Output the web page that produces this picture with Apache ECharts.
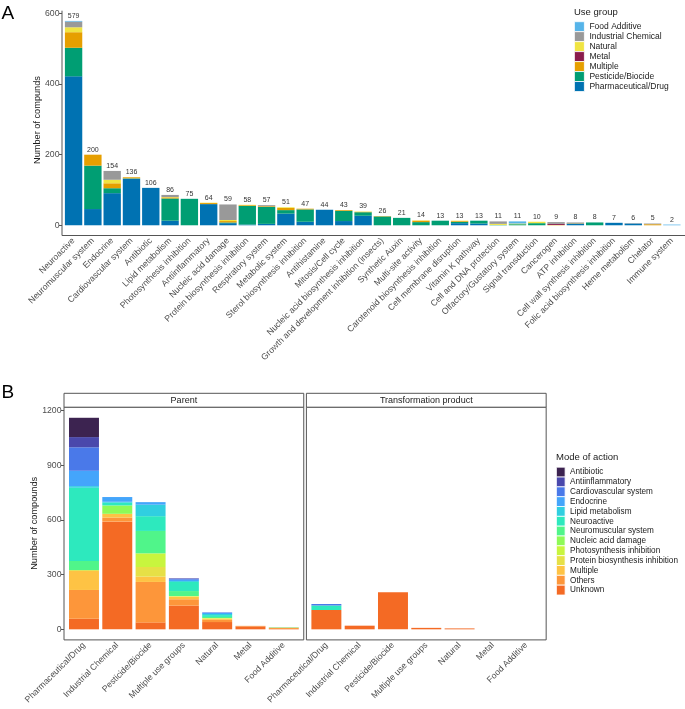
<!DOCTYPE html>
<html><head><meta charset="utf-8">
<script src="https://cdn.jsdelivr.net/npm/echarts@6/dist/echarts.min.js"></script>
<style>html,body{margin:0;padding:0;background:#fff}#c{width:685px;height:709px}</style>
</head><body><div id="c"></div><script>
// ---------- Panel A data ----------
const catsA = ['Neuroactive','Neuromuscular system','Endocrine','Cardiovascular system','Antibiotic','Lipid metabolism','Photosynthesis inhibition','Antiinflammatory','Nucleic acid damage','Protein biosynthesis inhibition','Respiratory system','Metabolic system','Sterol biosynthesis inhibition','Antihistamine','Mitosis/Cell cycle','Nucleic acid biosynthesis inhibition','Growth and development inhibition (insects)','Synthetic Auxin','Multi-site activity','Carotenoid biosynthesis inhibition','Cell membrane disruption','Vitamin K pathway','Cell and DNA protection','Olfactory/Gustatory system','Signal transduction','Cancerogen','ATP inhibition','Cell wall synthesis inhibition','Folic acid biosynthesis inhibition','Heme metabolism','Chelator','Immune system'];
const pharmaA     = [422,46,91,132,106,13,0,60,6,2,4,33,10,44,12,27,0,0,0,0,6,5,0,0,0,0,5,0,7,5,0,0];
const pesticideA  = [81,123,14,1,0,63,75,0,2,53,48,10,35,0,29,10,25,21,9,13,4,8,1,3,6,0,0,8,0,0,0,0];
const multipleA   = [44,31,14,3,0,3,0,3,4,2,2,6,2,0,2,1,1,0,4,0,2,0,0,0,0,1,1,0,0,0,3,0];
const metalA      = [0,0,0,0,0,0,0,0,0,0,0,0,0,0,0,0,0,0,0,0,0,0,0,0,0,3,0,0,0,0,0,0];
const naturalA    = [14,0,10,0,0,1,0,1,3,1,0,2,0,0,0,1,0,0,1,0,1,0,3,2,4,0,0,0,0,0,0,0];
const industrialA = [16,0,25,0,0,6,0,0,44,0,3,0,0,0,0,0,0,0,0,0,0,0,7,0,0,5,2,0,0,1,2,0];
const foodA       = [2,0,0,0,0,0,0,0,0,0,0,0,0,0,0,0,0,0,0,0,0,0,0,6,0,0,0,0,0,0,0,2];
const yTicksA = [0,200,400,600];
const legendA = ['Food Additive','Industrial Chemical','Natural','Metal','Multiple','Pesticide/Biocide','Pharmaceutical/Drug'];

// ---------- Panel B data ----------
const catsB = ['Pharmaceutical/Drug','Industrial Chemical','Pesticide/Biocide','Multiple use groups','Natural','Metal','Food Additive'];
const modesB = ['Unknown','Others','Multiple','Protein biosynthesis inhibition','Photosynthesis inhibition','Nucleic acid damage','Neuromuscular system','Neuroactive','Lipid metabolism','Endocrine','Cardiovascular system','Antiinflammatory','Antibiotic'];
// Parent facet (one array per mode, in catsB order)
const parentUnknown   = [58,591,38,130,40,16,2];
const parentOthers    = [158,22,222,35,12,3,6];
const parentMultiple  = [104,21,29,14,5,0,2];
const parentProtein   = [5,0,53,2,3,0,0];
const parentPhoto     = [0,0,75,2,2,0,0];
const parentNucleic   = [0,46,0,0,0,0,0];
const parentNeuromusc = [50,0,123,27,6,0,1];
const parentNeuroact  = [402,15,81,50,10,0,1];
const parentLipid     = [9,5,63,5,6,0,0];
const parentEndocrine = [84,26,14,7,6,0,0];
const parentCardio    = [129,0,0,5,3,0,0];
const parentAntiinfl  = [56,0,0,3,0,0,0];
const parentAntibio   = [106,0,0,0,0,0,0];
// Transformation product facet
const tpUnknown   = [106,20,203,8,5,0,0];
const tpNeuroact  = [25,0,0,0,0,0,0];
const tpCardio    = [8,0,0,0,0,0,0];
const yTicksB = [0,300,600,900,1200];
const legendB = ['Antibiotic','Antiinflammatory','Cardiovascular system','Endocrine','Lipid metabolism','Neuroactive','Neuromuscular system','Nucleic acid damage','Photosynthesis inhibition','Protein biosynthesis inhibition','Multiple','Others','Unknown'];

// ---------- styling ----------
const FONT = 'Liberation Sans, Arial, sans-serif';
const colA = {'Pharmaceutical/Drug':'#0072B2','Pesticide/Biocide':'#009E73','Multiple':'#E69F00','Metal':'#8A1C4C','Natural':'#F0E442','Industrial Chemical':'#999999','Food Additive':'#56B4E9'};
const colB = {'Antibiotic':'#3C2350','Antiinflammatory':'#4A48AC','Cardiovascular system':'#4A79E9','Endocrine':'#44A5FB','Lipid metabolism':'#30CFE0','Neuroactive':'#2DE9BE','Neuromuscular system':'#50F58A','Nucleic acid damage':'#8EFA57','Photosynthesis inhibition':'#C8F53E','Protein biosynthesis inhibition':'#E6E046','Multiple':'#FEC344','Others':'#FD963A','Unknown':'#F46A24'};

const groupsA = [['Pharmaceutical/Drug',pharmaA],['Pesticide/Biocide',pesticideA],['Multiple',multipleA],['Metal',metalA],['Natural',naturalA],['Industrial Chemical',industrialA],['Food Additive',foodA]];
const parentB = [parentUnknown,parentOthers,parentMultiple,parentProtein,parentPhoto,parentNucleic,parentNeuromusc,parentNeuroact,parentLipid,parentEndocrine,parentCardio,parentAntiinfl,parentAntibio];
const zeros = catsB.map(()=>0);
const tpB = modesB.map(m => m==='Unknown'?tpUnknown : m==='Neuroactive'?tpNeuroact : m==='Cardiovascular system'?tpCardio : zeros);

const totalsA = catsA.map((_,i)=>groupsA.reduce((s,g)=>s+g[1][i],0));
const nz = a => a.map(v => v ? v : null);

// layout (ggplot-like expansion)
const sA = 19.3, axLeftA = 62, topA = 10.7, botA = 235.5;
const maxA = Math.max(...totalsA), padA = maxA*0.05;
const sB = 33.3, p1L = 64, p2L = 306.4, pW = 7.2*sB, topB = 407.2, botB = 639.9;
const totalsB = catsB.map((_,i)=>parentB.reduce((s,a)=>s+a[i],0));
const maxB = Math.max(...totalsB), padB = maxB*0.05;

const series = [];
groupsA.forEach(([n,arr])=>series.push({type:'bar',name:n,xAxisIndex:0,yAxisIndex:0,stack:'A',data:nz(arr),
  barCategoryGap:'10%',itemStyle:{color:colA[n]}}));
series.push({type:'bar',name:'total',xAxisIndex:0,yAxisIndex:0,data:totalsA,barGap:'-100%',barCategoryGap:'10%',silent:true,
  itemStyle:{color:'rgba(0,0,0,0)',borderWidth:0},
  label:{show:true,position:'top',distance:1.5,fontSize:7,color:'#333',fontFamily:FONT}});
modesB.forEach((m,k)=>{
  series.push({type:'bar',name:m,xAxisIndex:1,yAxisIndex:1,stack:'P',data:nz(parentB[k]),barCategoryGap:'10%',
    itemStyle:{color:colB[m]}});
  series.push({type:'bar',name:m,xAxisIndex:2,yAxisIndex:2,stack:'T',data:nz(tpB[k]),barCategoryGap:'10%',
    itemStyle:{color:colB[m]}});
});

const xLab = {interval:0,rotate:45,fontSize:8.7,color:'#4d4d4d',margin:4,padding:[5,0,0,0],fontFamily:FONT};
const tick = {alignWithLabel:true,length:3,lineStyle:{color:'#555'}};
const yLab = {fontSize:8.7,color:'#4d4d4d',margin:2.5,fontFamily:FONT,formatter:v=>String(v)};

const option = {
  animation:false,
  grid:[
    {left:axLeftA+0.1*sA, top:topA, width:32*sA, height:botA-topA},
    {left:p1L+0.1*sB, top:topB, width:7*sB, height:botB-topB},
    {left:p2L+0.1*sB, top:topB, width:7*sB, height:botB-topB}
  ],
  xAxis:[
    {type:'category',gridIndex:0,data:catsA,axisLine:{show:false},axisTick:tick,axisLabel:xLab},
    {type:'category',gridIndex:1,data:catsB,axisLine:{show:false},axisTick:tick,axisLabel:xLab},
    {type:'category',gridIndex:2,data:catsB,axisLine:{show:false},axisTick:tick,axisLabel:xLab}
  ],
  yAxis:[
    {type:'value',gridIndex:0,min:-padA,max:maxA+padA,offset:0.1*sA,splitLine:{show:false},axisLine:{show:false},
      axisTick:{show:true,length:3,lineStyle:{color:'#555'},customValues:yTicksA},axisLabel:Object.assign({customValues:yTicksA},yLab)},
    {type:'value',gridIndex:1,min:-padB,max:maxB+padB,offset:0.1*sB,splitLine:{show:false},axisLine:{show:false},
      axisTick:{show:true,length:3,lineStyle:{color:'#555'},customValues:yTicksB},axisLabel:Object.assign({customValues:yTicksB},yLab)},
    {type:'value',gridIndex:2,min:-padB,max:maxB+padB,splitLine:{show:false},axisLine:{show:false},axisTick:{show:false},axisLabel:{show:false}}
  ],
  legend:[
    {orient:'vertical',left:574,top:21.3,padding:0,itemWidth:10,itemHeight:10,itemGap:-0.83,icon:'rect',selectedMode:false,
      textStyle:{fontSize:8.5,lineHeight:10,color:'#1a1a1a',fontFamily:FONT},
      data:legendA.map(n=>({name:n,itemStyle:{color:colA[n],borderColor:'#fff',borderWidth:0.8}}))},
    {orient:'vertical',left:556,top:466.8,padding:0,itemWidth:8.7,itemHeight:9.85,itemGap:-0.82,icon:'rect',selectedMode:false,
      textStyle:{fontSize:8.2,lineHeight:9.85,color:'#1a1a1a',fontFamily:FONT},
      data:legendB.map(n=>({name:n,itemStyle:{color:colB[n],borderColor:'#fff',borderWidth:0.8}}))}
  ],
  graphic:[
    {type:'polyline',shape:{points:[[axLeftA,topA],[axLeftA,botA],[axLeftA+33.2*sA,botA]]},style:{stroke:'#555',lineWidth:1,fill:null}},
    {type:'rect',shape:{x:p1L,y:topB,width:pW,height:botB-topB},style:{stroke:'#555',fill:null,lineWidth:1}},
    {type:'rect',shape:{x:p2L,y:topB,width:pW,height:botB-topB},style:{stroke:'#555',fill:null,lineWidth:1}},
    {type:'rect',shape:{x:p1L,y:393.3,width:pW,height:topB-393.3},style:{stroke:'#555',fill:'#fff',lineWidth:1}},
    {type:'rect',shape:{x:p2L,y:393.3,width:pW,height:topB-393.3},style:{stroke:'#555',fill:'#fff',lineWidth:1}},
    {type:'text',x:p1L+pW/2,y:400.3,style:{text:'Parent',fontSize:9,fontFamily:FONT,fill:'#1a1a1a',align:'center',verticalAlign:'middle'}},
    {type:'text',x:p2L+pW/2,y:400.3,style:{text:'Transformation product',fontSize:9,fontFamily:FONT,fill:'#1a1a1a',align:'center',verticalAlign:'middle'}},
    {type:'text',x:1.5,y:13.5,style:{text:'A',fontSize:19,fontFamily:FONT,fill:'#000',align:'left',verticalAlign:'middle'}},
    {type:'text',x:1.5,y:392.5,style:{text:'B',fontSize:19,fontFamily:FONT,fill:'#000',align:'left',verticalAlign:'middle'}},
    {type:'text',x:37.7,y:120,rotation:Math.PI/2,style:{text:'Number of compunds',fontSize:9.2,fontFamily:FONT,fill:'#1a1a1a',align:'center',verticalAlign:'middle'}},
    {type:'text',x:34.2,y:523.3,rotation:Math.PI/2,style:{text:'Number of compounds',fontSize:9.2,fontFamily:FONT,fill:'#1a1a1a',align:'center',verticalAlign:'middle'}},
    {type:'text',x:574,y:12.7,style:{text:'Use group',fontSize:9.5,fontFamily:FONT,fill:'#1a1a1a',align:'left',verticalAlign:'middle'}},
    {type:'text',x:556,y:457.5,style:{text:'Mode of action',fontSize:9.5,fontFamily:FONT,fill:'#1a1a1a',align:'left',verticalAlign:'middle'}}
  ],
  series
};
const chart = echarts.init(document.getElementById('c'),null,{renderer:'canvas'});
chart.setOption(option);
</script></body></html>
